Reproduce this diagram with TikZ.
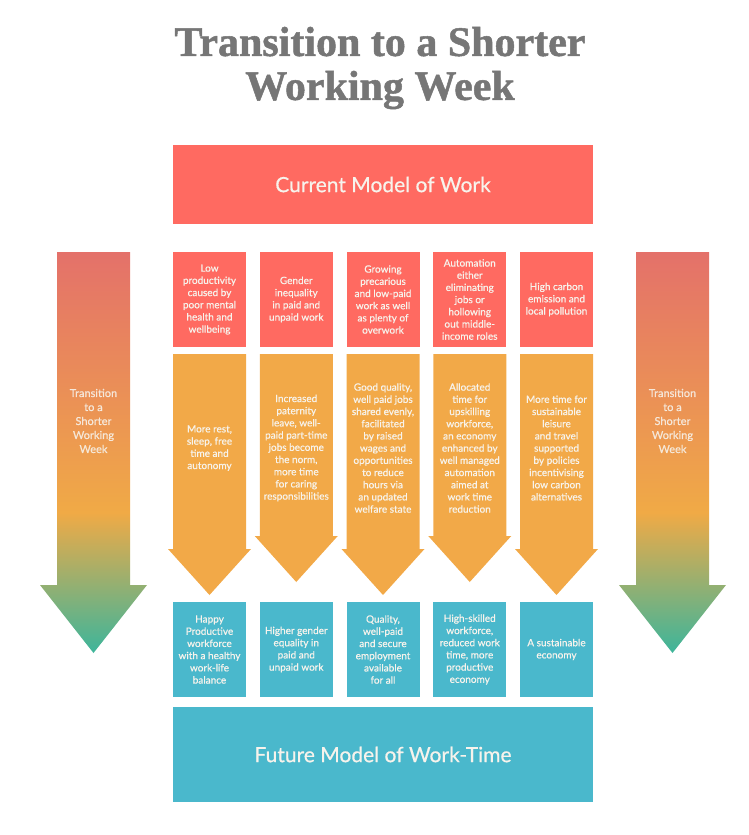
\documentclass[tikz,border=0pt]{standalone}
\usepackage{fontspec}
\setmainfont[BoldFeatures={FakeBold=1.2}]{Liberation Serif}
\newfontfamily\boxfont[FakeBold=0.6]{Lato}
\usetikzlibrary{positioning}

\definecolor{workred}{HTML}{FF6A61}
\definecolor{workorange}{HTML}{F2A948}
\definecolor{workblue}{HTML}{4AB8CC}
\definecolor{boxtext}{HTML}{F7F3EC}
\definecolor{titlegray}{HTML}{767676}
\definecolor{gradtop}{HTML}{E4716A}
\definecolor{gradmid}{HTML}{F0AA46}
\definecolor{gradbot}{HTML}{3DB59B}

\pgfdeclareverticalshading{transgrad}{100bp}{color(0bp)=(gradbot); color(25bp)=(gradbot); color(42.5bp)=(gradmid); color(75bp)=(gradtop); color(100bp)=(gradtop)}

% orange arrow below a column: x centre, start of head, tip
\newcommand{\colarrow}[3]{%
	\fill[workorange] (#1-36.5,354) -- (#1+36.5,354) -- (#1+36.5,#2) -- (#1+41.5,#2)
		-- (#1,#3) -- (#1-41.5,#2) -- (#1-36.5,#2) -- cycle;}
% big arrow at the sides
\newcommand{\sidearrow}[1]{%
	\shade[shading=transgrad] (#1-36.5,252) -- (#1+36.5,252) -- (#1+36.5,585) -- (#1+53.5,585)
		-- (#1,653) -- (#1-53.5,585) -- (#1-36.5,585) -- cycle;}

\begin{document}
\begin{tikzpicture}[x=1pt, y=-1pt, node distance=86.75pt, on grid,
	txt/.style={text=boxtext, align=center, inner sep=0pt,
		font=\boxfont\fontsize{10}{12.2}\selectfont},
	redbox/.style={txt, fill=workred, minimum width=73pt, minimum height=95pt},
	bluebox/.style={txt, fill=workblue, minimum width=73pt, minimum height=95pt},
	bigbox/.style={minimum width=420pt, font=\boxfont\fontsize{21}{25}\selectfont},
	sidetxt/.style={txt, text opacity=0.85, font=\boxfont\fontsize{11}{14}\selectfont}]
	\useasboundingbox (0,0) rectangle (749,835);

	\node[text=titlegray, align=center, font=\bfseries\fontsize{42}{44}\selectfont] (title) at (380,68)
		{Transition to a Shorter\\Working Week};

	\node[redbox, bigbox, minimum height=79pt] (current) at (383,184.5) {Current Model of Work};
	\node[bluebox, bigbox] (future) at (383,754.5) {Future Model of Work-Time};

	\sidearrow{93.5}
	\sidearrow{672.5}
	\node[sidetxt] (left) at (93.5,421) {Transition\\to a\\Shorter\\Working\\Week};
	\node[sidetxt] (right) at (672.5,421) {Transition\\to a\\Shorter\\Working\\Week};

	% problems
	\node[redbox] (c1) at (209.5,299.5) {Low\\productivity\\caused by\\poor mental\\health and\\wellbeing};
	\node[redbox] (c2) [right=of c1] {Gender\\inequality\\in paid and\\unpaid work};
	\node[redbox] (c3) [right=of c2] {Growing\\precarious\\and low-paid\\work as well\\as plenty of\\overwork};
	\node[redbox] (c4) [right=of c3] {Automation\\either\\eliminating\\jobs or\\hollowing\\out middle-\\income roles};
	\node[redbox] (c5) [right=of c4] {High carbon\\emission and\\local pollution};

	% changes
	\colarrow{209.5}{549}{595}
	\colarrow{296.25}{536}{582}
	\colarrow{383}{549}{595}
	\colarrow{469.75}{536}{582}
	\colarrow{556.5}{549}{595}
	\node[txt] (m1) at (209.5,448) {More rest,\\sleep, free\\time and\\autonomy};
	\node[txt] (m2) [right=of m1] {Increased\\paternity\\leave, well-\\paid part-time\\jobs become\\the norm,\\more time\\for caring\\responsibilities};
	\node[txt] (m3) [right=of m2] {Good quality,\\well paid jobs\\shared evenly,\\facilitated\\by raised\\wages and\\opportunities\\to reduce\\hours via\\an updated\\welfare state};
	\node[txt] (m4) [right=of m3] {Allocated\\time for\\upskilling\\workforce,\\an economy\\enhanced by\\well managed\\automation\\aimed at\\work time\\reduction};
	\node[txt] (m5) [right=of m4] {More time for\\sustainable\\leisure\\and travel\\supported\\by policies\\incentivising\\low carbon\\alternatives};

	% outcomes
	\node[bluebox] (f1) at (209.5,649.5) {Happy\\Productive\\workforce\\with a healthy\\work-life\\balance};
	\node[bluebox] (f2) [right=of f1] {Higher gender\\equality in\\paid and\\unpaid work};
	\node[bluebox] (f3) [right=of f2] {Quality,\\well-paid\\and secure\\employment\\available\\for all};
	\node[bluebox] (f4) [right=of f3] {High-skilled\\workforce,\\reduced work\\time, more\\productive\\economy};
	\node[bluebox] (f5) [right=of f4] {A sustainable\\economy};
\end{tikzpicture}
\end{document}
